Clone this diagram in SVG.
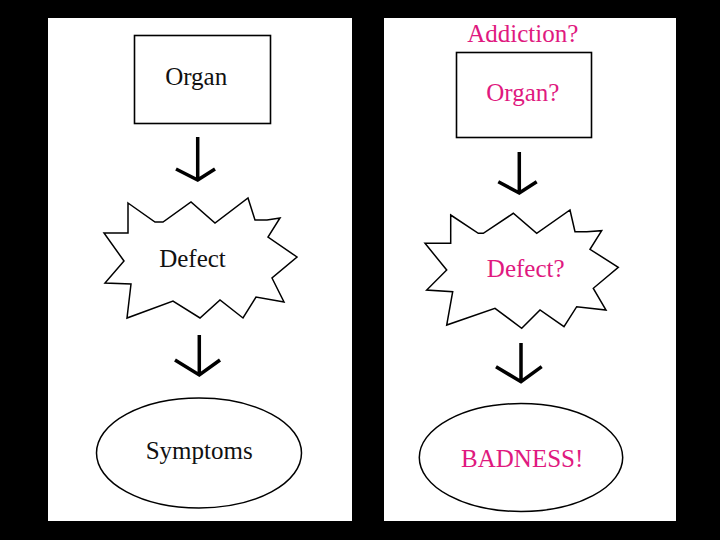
<svg xmlns="http://www.w3.org/2000/svg" width="720" height="540" viewBox="0 0 720 540">
<style>
.panel{fill:#ffffff}
.shape{fill:#ffffff;stroke:#000000;stroke-width:1.5;stroke-linejoin:miter}
.box{fill:#ffffff;stroke:#000000;stroke-width:1.6}
.lbl{font-family:"Liberation Serif","Times New Roman",serif;font-size:25px;text-anchor:middle}
.blk{fill:#111111}
.mag{fill:#e0197f}
.arrow{fill:none;stroke:#000000;stroke-width:3.5;stroke-linecap:butt;stroke-linejoin:miter}
</style>
<rect x="0" y="0" width="720" height="540" fill="#000000"/>
<rect class="panel" x="48" y="18" width="304" height="503"/>
<rect class="panel" x="384" y="18" width="292" height="503"/>

<g id="connectors">
  <path class="arrow" d="M197.7,137 V180 M176,169 L197.7,180 L215,169"/>
  <path class="arrow" d="M199.3,335 V375 M175,360 L199.3,375 L220,360"/>
  <path class="arrow" d="M519.3,152 V193 M498.3,181.7 L519.3,193 L536.7,181.7"/>
  <path class="arrow" d="M521,343 V381.7 M496,366.7 L521,381.7 L541.7,366.7"/>
</g>

<g id="organ">
  <rect class="box" x="134.5" y="35.5" width="136" height="88"/>
  <text class="lbl blk" x="196.2" y="85">Organ</text>
</g>

<g id="defect">
  <polygon class="shape" points="128,203 155,222 163,222 191,202 215,223 248,198 255,220 267,220 280,218 268,237 297,257 272,278 284,302 256,297 243,318 220,300 200,318 173,301 127,318 131,284 105,283 124,261 104,233 128,233"/>
  <text class="lbl blk" x="192.5" y="267">Defect</text>
</g>

<g id="symptoms">
  <ellipse class="shape" cx="199" cy="453" rx="102.5" ry="55"/>
  <text class="lbl blk" x="199.2" y="459">Symptoms</text>
</g>

<g id="addiction">
  <text class="lbl mag" x="522.8" y="41.7">Addiction?</text>
</g>

<g id="organ-q">
  <rect class="box" x="456.5" y="52.5" width="135" height="85"/>
  <text class="lbl mag" x="522.8" y="100.7">Organ?</text>
</g>

<g id="defect-q">
  <polygon class="shape" points="450.7,215 478.3,233.3 483.3,233.3 513.3,213.3 536.7,233.3 570,210 575,231.7 586.7,231.7 601.7,230.7 590,249.3 618.3,267.3 593.3,288.3 606,310 576.7,306.7 564,326.7 540,310 521.7,328.3 495,308.3 446.7,325 452.7,291.7 426.7,290 446.7,270 425,243.3 450.7,243.3"/>
  <text class="lbl mag" x="525.7" y="277">Defect?</text>
</g>

<g id="badness">
  <ellipse class="shape" cx="521" cy="457.5" rx="101.7" ry="54"/>
  <text class="lbl mag" x="522.2" y="466.7">BADNESS!</text>
</g>
</svg>
